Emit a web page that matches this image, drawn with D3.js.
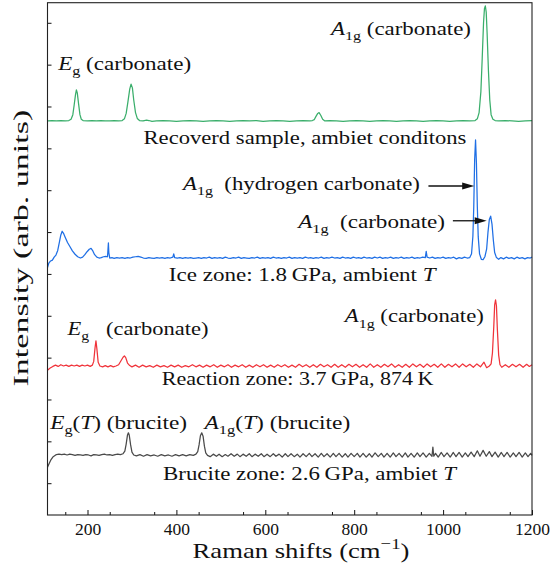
<!DOCTYPE html>
<html><head><meta charset="utf-8">
<script src="https://cdn.jsdelivr.net/npm/d3@7"></script>
<style>
body{margin:0;background:#fff}
text{font-family:"Liberation Serif","Times New Roman",serif;fill:#111}
</style></head>
<body><svg id="c" width="560" height="571"></svg>
<script>
// ---------------- DATA ----------------
const xTicks = [200, 400, 600, 800, 1000, 1200];
const xMinorTicks = [150, 250, 350, 450, 550, 650, 750, 850, 950, 1050, 1150];
const yTicks = [0, 1, 2, 3, 4, 5, 6, 7, 8, 9, 10, 11];

const seriesNames = ["Brucite zone", "Reaction zone", "Ice zone", "Recovered sample"];
const seriesOffsets = [0.674, 2.80, 5.38, 8.655];

const brucite = [
[110,-0.29],[114,-0.20],[118,-0.11],[122,-0.05],[126,-0.02],[130,0.01],[136,0.02],[142,0.01],[148,0.02],[154,0.0],[160,0.02],[166,0.01],[172,-0.01],[178,0.01],[184,0.0],[190,-0.01],[196,0.01],[202,0.0],[208,-0.02],[214,0.01],[220,0.0],[226,-0.01],[232,0.01],[238,0.02],[244,0.0],[250,0.01],[256,-0.01],[262,0.01],[268,0.02],[274,0.01],[280,0.03],[284,0.09],[287,0.26],[290,0.48],[292,0.53],[294,0.47],[297,0.24],[300,0.07],[304,0.0],[310,-0.02],[318,0.01],[326,-0.03],[334,0.01],[342,-0.02],[350,0.0],[358,-0.03],[366,0.01],[374,-0.02],[382,0.0],[390,-0.03],[398,0.01],[406,-0.02],[414,0.01],[422,-0.02],[430,0.01],[438,-0.01],[444,0.02],[448,0.08],[451,0.24],[454,0.46],[457,0.53],[460,0.45],[463,0.21],[466,0.05],[470,-0.01],
[476,-0.04],[483,0.02],[490,-0.03],[496,0.02],[503,-0.04],[510,0.01],[516,-0.03],[523,0.03],[530,-0.03],[537,0.02],[543,-0.04],[550,0.02],[557,-0.03],[564,0.03],[570,-0.04],[577,0.02],[584,-0.03],[591,0.03],[597,-0.04],[604,0.02],[611,-0.04],[618,0.03],[624,-0.03],[631,0.02],[638,-0.05],[645,0.03],[651,-0.04],[658,0.03],[665,-0.04],[672,0.02],[678,-0.05],[685,0.03],[692,-0.04],[699,0.04],[705,-0.04],[712,0.03],[719,-0.05],[726,0.04],[732,-0.04],[739,0.03],[746,-0.05],[753,0.04],[759,-0.04],[766,0.04],[773,-0.05],[780,0.03],[786,-0.05],[793,0.04],[800,-0.04],[807,0.04],[813,-0.05],[820,0.04],[827,-0.05],[834,0.03],[840,-0.05],[847,0.05],[854,-0.04],[861,0.04],[867,-0.05],[874,0.04],[881,-0.05],[888,0.05],[894,-0.04],[901,0.04],[908,-0.05],[915,0.05],[921,-0.05],[928,0.04],[935,-0.05],[942,0.05],[948,-0.04],[955,0.05],[962,-0.05],[969,0.04],[975,-0.03],[977,0.19],[979,-0.03],[983,0.04],[989,-0.05],[996,0.06],[1002,-0.04],[1009,0.05],[1016,-0.05],[1023,0.06],[1029,-0.04],[1036,0.06],[1043,-0.05],[1050,0.05],[1056,-0.04],[1063,0.07],[1070,-0.04],[1077,0.10],[1083,-0.03],[1090,0.11],[1097,-0.03],[1104,0.08],[1110,-0.04],[1117,0.07],[1124,-0.05],[1131,0.06],[1137,-0.04],[1144,0.06],[1151,-0.05],[1158,0.05],[1164,-0.04],[1171,0.06],[1178,-0.05],[1185,0.05],[1191,-0.04],[1197,0.04],[1200,-0.01]
];

const reaction = [
[110,-0.10],[116,-0.05],[122,-0.01],[128,0.02],[134,-0.01],[140,0.03],[146,0.0],[152,0.02],[158,-0.01],[164,0.02],[170,0.0],[176,0.02],[182,-0.01],[188,0.02],[194,0.0],[200,0.02],[206,-0.01],[211,0.02],[214,0.11],[217,0.44],[219,0.60],[221,0.42],[224,0.09],[228,0.0],[234,-0.02],[240,0.01],[246,-0.02],[252,0.01],[258,-0.02],[264,0.0],[270,0.03],[275,0.12],[280,0.21],[283,0.24],[286,0.20],[290,0.07],[295,0.01],[300,-0.02],[308,0.02],[316,-0.03],[324,0.02],[332,-0.02],[340,0.01],[348,-0.03],[356,0.02],[364,-0.02],[372,0.01],[380,-0.03],[388,0.02],[396,-0.02],[404,0.02],[412,-0.03],[420,0.01],[428,-0.02],[436,0.03],[444,-0.02],[452,0.02],[460,-0.03],[468,0.02],[476,-0.02],[484,0.03],[492,-0.03],[500,0.02],[508,-0.02],[516,0.03],[524,-0.03],[532,0.02],[540,-0.02],[548,0.03],[556,-0.03],[564,0.02],[572,-0.03],[580,0.03],[588,-0.02],[596,0.03],[604,-0.03],[612,0.02],[620,-0.03],[628,0.03],[636,-0.02],[644,0.03],[652,-0.03],[660,0.02],[668,-0.03],[676,0.04],[684,-0.02],[692,0.03],[700,-0.03],[708,0.03],[716,-0.03],[724,0.04],[732,-0.02],[740,0.03],[748,-0.03],[756,0.04],[764,-0.03],[772,0.03],[780,-0.03],[788,0.04],[796,-0.02],[804,0.04],[812,-0.03],[820,0.03],[828,-0.03],[836,0.05],[844,-0.03],[852,0.03],[860,-0.03],[868,0.04],[876,-0.02],[884,0.05],[892,-0.03],[900,0.03],[908,-0.03],[916,0.04],[924,-0.03],[932,0.05],[940,-0.02],[948,0.04],[956,-0.03],[964,0.05],[972,-0.02],[980,0.04],[988,-0.03],[996,0.05],[1004,-0.03],[1012,0.04],[1020,-0.02],[1028,0.05],[1036,-0.03],[1044,0.05],[1052,-0.02],[1060,0.04],[1068,-0.03],[1076,0.05],[1084,-0.02],[1092,0.09],[1098,-0.04],[1104,0.0],[1108,0.05],[1111,0.31],[1114,0.94],[1116,1.46],[1118,1.58],[1120,1.44],[1122,0.89],[1125,0.26],[1128,0.03],[1132,-0.03],[1140,0.03],[1148,-0.03],[1156,0.04],[1164,-0.02],[1172,0.04],[1180,-0.03],[1188,0.04],[1194,-0.01],[1200,0.03]
];

const ice = [
[110,-0.23],[113,-0.12],[117,-0.07],[121,-0.05],[125,0.02],[129,0.07],[133,0.18],[137,0.39],[140,0.55],[143,0.64],[146,0.59],[150,0.49],[155,0.37],[160,0.28],[166,0.17],[172,0.09],[178,0.03],[184,0.0],[189,0.02],[194,0.08],[199,0.15],[204,0.21],[208,0.23],[212,0.17],[216,0.08],[221,0.02],[226,0.0],[231,0.01],[236,0.03],[241,0.04],[245,0.03],[247,0.36],[248,0.13],[250,0.0],[255,0.01],[260,-0.01],[266,0.01],[272,0.0],[278,0.01],[284,-0.01],[290,0.01],[296,0.0],[302,0.02],[308,0.03],[314,0.04],[320,0.02],[326,0.0],[332,-0.01],[338,0.01],[344,0.0],[350,-0.01],[356,0.01],[362,0.0],[368,0.01],[374,-0.01],[380,0.01],[386,0.0],[392,0.02],[394,0.10],[396,0.01],[402,0.0],[408,0.01],[414,-0.01],[420,0.01],[426,0.0],[432,0.01],[438,-0.01],[444,0.0],[450,0.01],[456,-0.01],[462,0.01],[468,0.0],[474,0.02],[480,-0.01],[486,0.01],[492,0.0],[498,0.01],[504,-0.01],[510,0.02],[516,0.0],[522,-0.01],[528,0.01],[534,0.0],[540,0.02],[546,-0.01],[552,0.01],[558,0.0],[564,-0.01],[570,0.01],[576,0.0],[582,0.02],[588,-0.01],[594,0.01],[600,0.0],[606,0.01],[612,-0.01],[618,0.02],[624,0.0],[630,0.01],[636,-0.01],[642,0.01],[648,0.0],[654,0.02],[660,-0.01],[666,0.01],[672,0.0],[678,0.01],[684,-0.01],[690,0.02],[696,0.0],[702,0.01],[708,-0.01],[714,0.01],[720,0.0],[726,0.02],[732,-0.01],[738,0.01],[744,0.0],[750,0.02],[756,0.0],[762,0.01],[768,-0.01],[774,0.02],[780,0.0],[786,0.01],[792,-0.01],[798,0.02],[804,0.0],[810,0.01],[816,-0.01],[822,0.02],[828,0.0],[834,0.01],[840,-0.01],[846,0.02],[852,0.0],[858,0.02],[864,-0.01],[870,0.01],[876,0.0],[882,0.02],[888,-0.01],[894,0.01],[900,0.0],[906,0.02],[912,-0.01],[918,0.01],[924,0.0],[930,0.02],[936,-0.01],[942,0.01],[948,0.0],[954,0.02],[960,0.01],[962,0.16],[964,0.02],[970,0.0],[976,0.02],[982,-0.01],[988,0.01],[994,0.0],[1000,0.02],[1006,-0.01],[1012,0.01],[1018,0.0],[1024,0.02],[1030,-0.02],[1036,0.01],[1042,-0.01],[1048,0.02],[1054,0.0],[1060,0.01],[1064,0.10],[1067,0.52],[1069,1.23],[1071,2.36],[1073,2.82],[1075,2.26],[1077,1.23],[1079,0.51],[1082,0.10],[1086,-0.03],[1090,-0.04],[1094,0.03],[1098,0.22],[1101,0.62],[1104,0.92],[1107,1.00],[1110,0.81],[1113,0.43],[1116,0.13],[1120,0.01],[1125,-0.03],[1130,0.01],[1136,-0.02],[1142,0.02],[1148,-0.01],[1154,0.01],[1160,-0.02],[1166,0.02],[1172,-0.01],[1178,0.01],[1184,-0.02],[1190,0.01],[1196,0.0],[1200,0.02]
];

const recovered = [
[110,0.0],[120,0.01],[130,0.0],[140,0.01],[150,0.0],[158,0.01],[163,0.04],[167,0.15],[170,0.38],[173,0.63],[175,0.74],[177,0.67],[180,0.40],[183,0.15],[186,0.04],[190,0.01],[200,0.0],[210,0.01],[220,0.0],[230,0.01],[240,0.0],[250,0.0],[260,0.01],[270,0.0],[278,0.01],[283,0.05],[287,0.18],[291,0.46],[295,0.76],[298,0.88],[301,0.79],[304,0.50],[308,0.20],[312,0.06],[317,0.01],[325,0.0],[333,0.02],[338,0.01],[345,-0.01],[355,0.0],[370,0.01],[385,0.0],[400,-0.01],[415,0.0],[430,0.01],[445,0.0],[460,-0.01],[475,0.0],[490,0.01],[505,0.0],[520,-0.01],[535,0.0],[550,0.01],[565,0.0],[580,0.01],[595,-0.01],[610,0.0],[625,0.01],[640,0.0],[655,-0.01],[670,0.0],[685,0.01],[700,0.0],[706,0.01],[710,0.03],[714,0.11],[718,0.18],[721,0.20],[725,0.13],[729,0.04],[734,0.0],[745,0.01],[760,0.0],[775,-0.01],[790,0.0],[805,0.01],[820,0.0],[835,-0.01],[850,0.0],[865,0.01],[880,0.0],[895,-0.01],[910,0.0],[925,0.01],[940,0.0],[955,-0.01],[970,0.0],[985,0.01],[1000,0.0],[1015,-0.01],[1030,0.0],[1045,0.01],[1060,0.0],[1072,0.01],[1077,0.05],[1081,0.20],[1085,0.70],[1088,1.50],[1091,2.35],[1093,2.68],[1095,2.75],[1097,2.60],[1099,2.10],[1102,1.20],[1105,0.50],[1108,0.15],[1112,0.04],[1117,0.01],[1125,0.0],[1140,0.01],[1155,0.0],[1170,-0.01],[1185,0.0],[1200,0.01]
];

const seriesData = [brucite, reaction, ice, recovered];

// annotation texts (segments: [text, style])
const labelTexts = [
  [["E","i"],["g","sub"],[" (carbonate)",""]],
  [["A","i"],["1g","sub"],[" (carbonate)",""]],
  [["Recoverd sample, ambiet conditons",""]],
  [["A","i"],["1g","sub"],["  (hydrogen carbonate)",""]],
  [["A","i"],["1g","sub"],["  (carbonate)",""]],
  [["Ice zone: 1.8\u2009GPa, ambient ",""],["T","i"]],
  [["E","i"],["g","sub"],["   (carbonate)",""]],
  [["A","i"],["1g","sub"],[" (carbonate)",""]],
  [["Reaction zone: 3.7\u2009GPa, 874\u2009K",""]],
  [["E","i"],["g","sub"],["(",""],["T","i"],[") (brucite)",""]],
  [["A","i"],["1g","sub"],["(",""],["T","i"],[") (brucite)",""]],
  [["Brucite zone: 2.6\u2009GPa, ambiet ",""],["T","i"]]
];
// label anchor (Raman shift, intensity) and rendered width in px (layout)
const labelX = [134, 748, 326, 415, 674, 383, 155, 779, 367, 116, 463, 370];
const labelY = [9.87, 10.70, 8.11, 7.00, 6.09, 4.83, 3.54, 3.84, 2.35, 1.30, 1.30, 0.07];
const labelW = [133, 140, 323, 237, 147, 267, 141, 139, 272, 137, 146, 293];

// arrows: [x0, x1, y]
const arrows = [[967, 1070, 7.10], [1022, 1098, 6.27]];

// ---------------- CHART ----------------
const svg = d3.select("#c");
const m = {l: 47.5, r: 532, t: 2.7, b: 515};
const colors = ["#4a4a4a", "#f0333a", "#1f6fe5", "#3aae6b"];

const x = d3.scaleLinear().domain([110, 1200]).range([m.l, m.r]);
const y = d3.scaleLinear().domain([-0.76, 11.48]).range([m.b, m.t]);

// traces
const line = d3.line().x(d => x(d[0])).y(d => y(d[1]));
seriesData.forEach((s, i) => {
  svg.append("path")
    .datum(s.map(d => [d[0], d[1] + seriesOffsets[i]]))
    .attr("d", line)
    .attr("fill", "none")
    .attr("stroke", colors[i])
    .attr("stroke-width", 1.25)
    .attr("stroke-linejoin", "round");
});

// axes
const fs = 18, tickFs = 17.5, titleFs = 22;
const xAxis = svg.append("g").attr("transform", `translate(0,${m.b})`)
  .call(d3.axisBottom(x).tickValues(xTicks).tickSizeInner(-5).tickSizeOuter(0).tickPadding(8).tickFormat(d3.format("d")));
xAxis.select(".domain").remove();
xAxis.selectAll("text").style("font-size", tickFs + "px").style("font-family", '"Liberation Serif",serif').attr("fill", "#111");
xAxis.selectAll("line").attr("stroke", "#111");
const xMinor = svg.append("g").attr("transform", `translate(0,${m.b})`)
  .call(d3.axisBottom(x).tickValues(xMinorTicks).tickSizeInner(-3).tickSizeOuter(0).tickFormat(""));
xMinor.select(".domain").remove();
xMinor.selectAll("line").attr("stroke", "#111");

const yAxis = svg.append("g").attr("transform", `translate(${m.l},0)`)
  .call(d3.axisLeft(y).tickValues(yTicks).tickSizeInner(-4).tickSizeOuter(0).tickFormat(""));
yAxis.select(".domain").remove();
yAxis.selectAll("line").attr("stroke", "#111");

// frame
svg.append("rect").attr("x", m.l).attr("y", m.t).attr("width", m.r - m.l).attr("height", m.b - m.t)
  .attr("fill", "none").attr("stroke", "#222").attr("stroke-width", 1.1);

// rich label helper
function richText(parent, segs, size) {
  const t = parent.append("text").style("font-size", size + "px").style("white-space", "pre").attr("xml:space", "preserve");
  let shift = 0;
  segs.forEach(([s, k]) => {
    const ts = t.append("tspan").text(s);
    let target = 0;
    if (k === "sub") { target = size * 0.28; ts.style("font-size", (size * 0.7) + "px"); }
    else if (k === "sup") { target = -size * 0.42; ts.style("font-size", (size * 0.7) + "px"); }
    if (k === "i") ts.style("font-style", "italic");
    ts.attr("dy", target - shift);
    shift = target;
  });
  return t;
}
function fitted(segs, size, px, py, w, anchorMid, rot) {
  const g = svg.append("g");
  const t = richText(g, segs, size);
  const nat = t.node().getComputedTextLength();
  const sx = w / nat;
  if (anchorMid) t.attr("x", -nat / 2);
  g.attr("transform", `translate(${px},${py})` + (rot ? ` rotate(${rot})` : "") + ` scale(${sx},1)`);
}

labelTexts.forEach((segs, i) => {
  fitted(segs, fs, x(labelX[i]), y(labelY[i]), labelW[i], false, 0);
});

// arrows
arrows.forEach(([x0, x1, yy]) => {
  const X0 = x(x0), X1 = x(x1), Y = y(yy);
  svg.append("line").attr("x1", X0).attr("x2", X1 - 10).attr("y1", Y).attr("y2", Y)
    .attr("stroke", "#111").attr("stroke-width", 1.3);
  svg.append("path").attr("d", `M${X1},${Y} L${X1 - 12},${Y - 3.6} L${X1 - 12},${Y + 3.6} Z`).attr("fill", "#111");
});

// axis titles
fitted([["Raman shifts (cm",""],["\u22121","sup"],[")",""]], titleFs, 301, 558, 217, true, 0);
fitted([["Intensity (arb. units)",""]], titleFs, 28, 248, 277, true, -90);
</script></body></html>
